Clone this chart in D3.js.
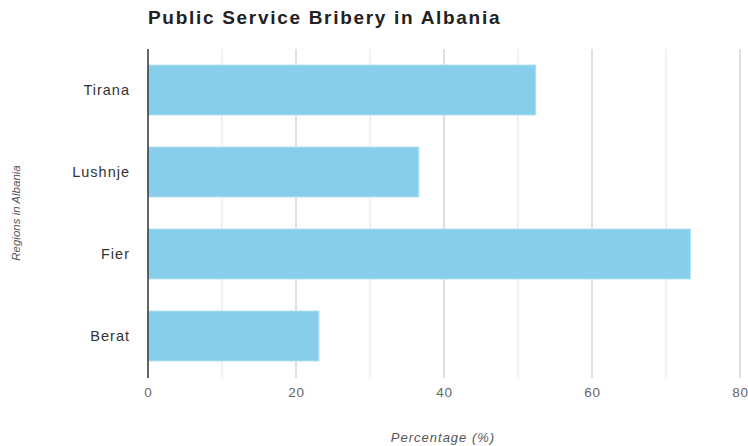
<!DOCTYPE html>
<html>
<head>
<meta charset="utf-8">
<script src="https://cdn.jsdelivr.net/npm/d3@7"></script>
<style>
  body { margin: 0; background: #fff; }
  svg { font-family: "Liberation Sans", Arial, sans-serif; }
</style>
</head>
<body>
<div id="chart"></div>
<script>
"use strict";

var regions = ["Tirana", "Lushnje", "Fier", "Berat"];
var percentages = [52.4, 36.6, 73.3, 23.1];
var tickValues = [0, 20, 40, 60, 80];
var gridValues = [10, 20, 30, 40, 50, 60, 70, 80];

var width = 748, height = 446;
var margin = { top: 49, right: 8, bottom: 68, left: 148 };

var svg = d3.select("#chart").append("svg")
	.attr("width", width)
	.attr("height", height);

var x = d3.scaleLinear()
	.domain([0, 80])
	.range([margin.left, 740]);

var y = d3.scaleBand()
	.domain(regions)
	.range([margin.top, height - margin.bottom - 1])
	.paddingInner(0.39)
	.paddingOuter(0.195);

// gridlines
svg.append("g").selectAll("line")
	.data(gridValues)
	.enter().append("line")
	.attr("x1", function(d) { return x(d); })
	.attr("x2", function(d) { return x(d); })
	.attr("y1", margin.top)
	.attr("y2", height - margin.bottom)
	.attr("stroke", function(d) { return d % 20 === 0 ? "#d6d6d6" : "#ececec"; })
	.attr("stroke-width", 1.5);

// bars
svg.append("g").selectAll("rect")
	.data(regions)
	.enter().append("rect")
	.attr("x", x(0))
	.attr("y", function(d) { return y(d); })
	.attr("width", function(d, i) { return x(percentages[i]) - x(0); })
	.attr("height", y.bandwidth())
	.attr("fill", "#87ceeb")
	.attr("stroke", "#b5e2f3")
	.attr("stroke-width", 1);

// y axis
var yAxis = svg.append("g")
	.attr("transform", "translate(" + x(0) + ",0)")
	.call(d3.axisLeft(y).tickSize(0).tickPadding(18));
yAxis.select(".domain")
	.attr("stroke", "#333")
	.attr("stroke-width", 1.5)
	.attr("d", "M0," + margin.top + "V" + (height - margin.bottom));
yAxis.selectAll("text")
	.attr("font-size", 14.5)
	.attr("letter-spacing", 1)
	.attr("fill", "#333")
	.attr("font-family", "Liberation Sans, Arial, sans-serif");

// x axis
var xAxis = svg.append("g")
	.attr("transform", "translate(0," + (height - margin.bottom) + ")")
	.call(d3.axisBottom(x).tickValues(tickValues).tickSize(0).tickPadding(9));
xAxis.select(".domain").remove();
xAxis.selectAll("text")
	.attr("font-size", 13.5)
	.attr("letter-spacing", 0.8)
	.attr("fill", "#666")
	.attr("font-family", "Liberation Sans, Arial, sans-serif");

// title
svg.append("text")
	.attr("x", 148)
	.attr("y", 24)
	.attr("font-size", 19)
	.attr("letter-spacing", 1.7)
	.attr("font-weight", "bold")
	.attr("fill", "#222")
	.text("Public Service Bribery in Albania");

// axis titles
svg.append("text")
	.attr("x", 443)
	.attr("y", 442)
	.attr("text-anchor", "middle")
	.attr("font-size", 13)
	.attr("letter-spacing", 1)
	.attr("font-style", "italic")
	.attr("fill", "#555")
	.text("Percentage (%)");

svg.append("text")
	.attr("transform", "translate(20,213) rotate(-90)")
	.attr("text-anchor", "middle")
	.attr("font-size", 11.5)
	.attr("font-style", "italic")
	.attr("fill", "#555")
	.text("Regions in Albania");
</script>
</body>
</html>
